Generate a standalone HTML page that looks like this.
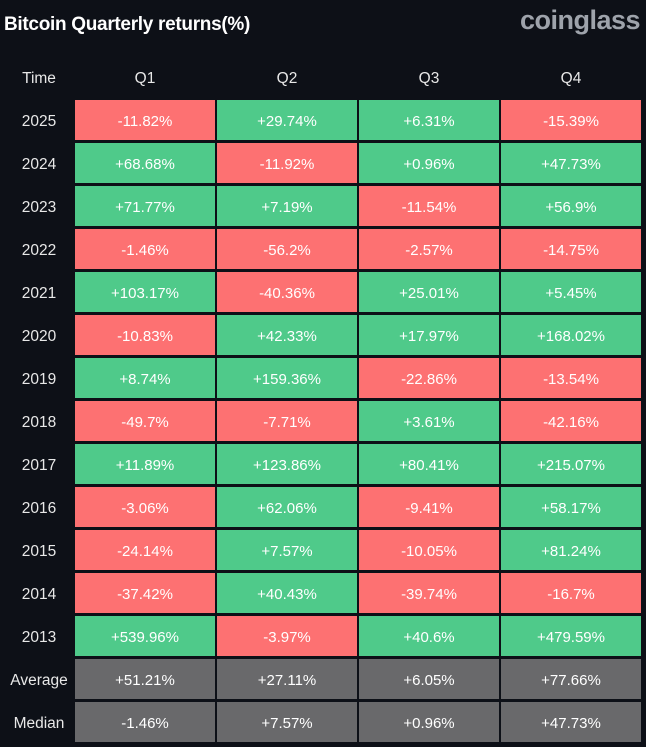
<!DOCTYPE html>
<html><head><meta charset="utf-8"><style>
body{margin:0;width:646px;height:747px;background:#0d1017;font-family:"Liberation Sans",sans-serif;color:#fff;position:relative;overflow:hidden}
.t{position:absolute;left:4px;top:14px;font-size:19px;font-weight:bold;letter-spacing:-0.3px}
.logo{position:absolute;right:6px;top:5px;font-size:27px;font-weight:bold;color:#9ea3ab;letter-spacing:-0.5px}
.c{position:absolute;height:40px;line-height:43px;text-align:center;font-size:15px}
.h{position:absolute;font-size:15.5px;text-align:center;height:40px;line-height:43px;color:#e8e8e8}
.r{background:#fd7172}.g{background:#4fca8a}.a{background:#69696b}
</style></head><body>
<div class="t">Bitcoin Quarterly returns(%)</div>
<div class="logo">coinglass</div>
<div id="tb"></div>
<script>
const rows=[["2025","-11.82%","+29.74%","+6.31%","-15.39%"],["2024","+68.68%","-11.92%","+0.96%","+47.73%"],["2023","+71.77%","+7.19%","-11.54%","+56.9%"],["2022","-1.46%","-56.2%","-2.57%","-14.75%"],["2021","+103.17%","-40.36%","+25.01%","+5.45%"],["2020","-10.83%","+42.33%","+17.97%","+168.02%"],["2019","+8.74%","+159.36%","-22.86%","-13.54%"],["2018","-49.7%","-7.71%","+3.61%","-42.16%"],["2017","+11.89%","+123.86%","+80.41%","+215.07%"],["2016","-3.06%","+62.06%","-9.41%","+58.17%"],["2015","-24.14%","+7.57%","-10.05%","+81.24%"],["2014","-37.42%","+40.43%","-39.74%","-16.7%"],["2013","+539.96%","-3.97%","+40.6%","+479.59%"],["Average","+51.21%","+27.11%","+6.05%","+77.66%"],["Median","-1.46%","+7.57%","+0.96%","+47.73%"]];
let h='';const xs=[75,217,359,501];
h+=`<div class="h" style="left:0;width:78px;top:57px">Time</div>`;
["Q1","Q2","Q3","Q4"].forEach((q,i)=>h+=`<div class="h" style="left:${xs[i]}px;width:140px;top:57px">${q}</div>`);
rows.forEach((r,j)=>{const y=100+43*j;const avg=j>=13;
h+=`<div class="h" style="left:0;width:78px;top:${y}px">${r[0]}</div>`;
for(let i=0;i<4;i++){const v=r[i+1];const cl=avg?'a':(v[0]=='-'?'r':'g');
h+=`<div class="c ${cl}" style="left:${xs[i]}px;width:140px;top:${y}px">${v}</div>`;}});
document.getElementById('tb').innerHTML=h;
</script>
</body></html>
